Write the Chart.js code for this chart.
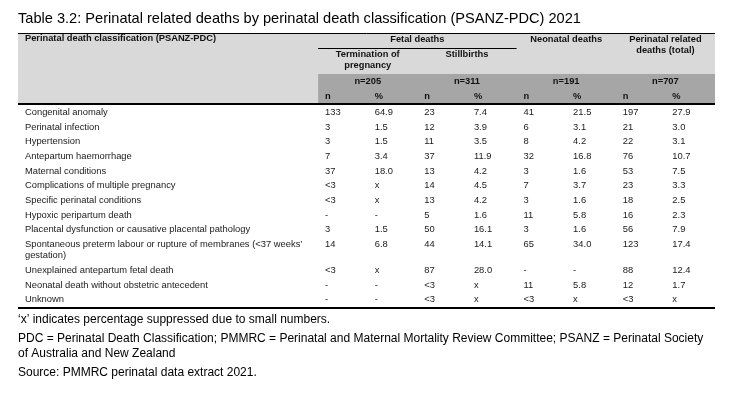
<!DOCTYPE html>
<html>
<head>
<meta charset="utf-8">
<script src="https://cdn.jsdelivr.net/npm/chart.js@4.4.1/dist/chart.umd.min.js"></script>
<style>
html, body { margin: 0; padding: 0; background: #fff; }
#wrap { width: 736px; height: 409px; position: relative; }
</style>
</head>
<body>
<div id="wrap"><canvas id="myChart"></canvas></div>
<script>
// table text
const title = 'Table 3.2: Perinatal related deaths by perinatal death classification (PSANZ-PDC) 2021';
const stubHeader = 'Perinatal death classification (PSANZ-PDC)';
const fetalHeader = 'Fetal deaths';
const groupHeaders = [['Termination of', 'pregnancy'], ['Stillbirths'], ['Neonatal deaths'], ['Perinatal related', 'deaths (total)']];
const groupTotals = ['n=205', 'n=311', 'n=191', 'n=707'];
const subHeaders = ['n', '%'];

const categories = [
    'Congenital anomaly',
    'Perinatal infection',
    'Hypertension',
    'Antepartum haemorrhage',
    'Maternal conditions',
    'Complications of multiple pregnancy',
    'Specific perinatal conditions',
    'Hypoxic peripartum death',
    'Placental dysfunction or causative placental pathology',
    ['Spontaneous preterm labour or rupture of membranes (<37 weeks\u2019', 'gestation)'],
    'Unexplained antepartum fetal death',
    'Neonatal death without obstetric antecedent',
    'Unknown'
];

// series values ('<3', 'x' and '-' kept as printed)
const topN     = ['133', '3', '3', '7', '37', '<3', '<3', '-', '3', '14', '<3', '-', '-'];
const topPct   = ['64.9', '1.5', '1.5', '3.4', '18.0', 'x', 'x', '-', '1.5', '6.8', 'x', '-', '-'];
const stillN   = ['23', '12', '11', '37', '13', '14', '13', '5', '50', '44', '87', '<3', '<3'];
const stillPct = ['7.4', '3.9', '3.5', '11.9', '4.2', '4.5', '4.2', '1.6', '16.1', '14.1', '28.0', 'x', 'x'];
const neoN     = ['41', '6', '8', '32', '3', '7', '3', '11', '3', '65', '-', '11', '<3'];
const neoPct   = ['21.5', '3.1', '4.2', '16.8', '1.6', '3.7', '1.6', '5.8', '1.6', '34.0', '-', '5.8', 'x'];
const totalN   = ['197', '21', '22', '76', '53', '23', '18', '16', '56', '123', '88', '12', '<3'];
const totalPct = ['27.9', '3.0', '3.1', '10.7', '7.5', '3.3', '2.5', '2.3', '7.9', '17.4', '12.4', '1.7', 'x'];

const footnotes = [
    ['\u2018x\u2019 indicates percentage suppressed due to small numbers.'],
    ['PDC = Perinatal Death Classification; PMMRC = Perinatal and Maternal Mortality Review Committee; PSANZ = Perinatal Society', 'of Australia and New Zealand'],
    ['Source: PMMRC perinatal data extract 2021.']
];

const columns = [topN, topPct, stillN, stillPct, neoN, neoPct, totalN, totalPct];

const FONT = '"Liberation Sans", Arial, sans-serif';
const EDGE = -0.14;       // left edge of the numeric block (x units)
const WRAP = 0.78;        // extra height of a wrapped line (y units)

// row positions in y units, wrapped rows push the rest down
let wrapped = 0;
const rowY = categories.map(c => {
    const v = wrapped * WRAP + 0.5;
    if (Array.isArray(c)) wrapped += c.length - 1;
    return v;
}).map((v, i) => v + i);

const datasets = [{
    label: 'classification',
    data: categories.map((c, i) => ({ x: -6.05, y: rowY[i], text: c })),
    pointRadius: 0
}];
columns.forEach((col, c) => {
    datasets.push({
        label: 'col' + c,
        data: col.map((v, i) => ({ x: c, y: rowY[i], text: v })),
        pointRadius: 0
    });
});

const tablePlugin = {
    id: 'table',
    beforeDatasetsDraw(chart) {
        const { ctx, chartArea, scales: { x, y } } = chart;
        const px = v => x.getPixelForValue(v);
        const py = v => y.getPixelForValue(v);
        const left = chartArea.left, right = chartArea.right;
        const lh = py(WRAP) - py(0);

        ctx.save();
        // title
        ctx.fillStyle = '#000';
        ctx.font = '14.6px ' + FONT;
        ctx.textAlign = 'left';
        ctx.textBaseline = 'middle';
        ctx.fillText(title, left, chartArea.top - 14.5);

        // header shading
        ctx.fillStyle = '#d9d9d9';
        ctx.fillRect(left, chartArea.top, right - left, py(0) - chartArea.top);
        ctx.fillStyle = '#a6a6a6';
        ctx.fillRect(px(EDGE), py(-2.04), right - px(EDGE), py(0) - py(-2.04));

        // rules
        ctx.strokeStyle = '#000';
        ctx.lineWidth = 1;
        ctx.beginPath();
        ctx.moveTo(left, chartArea.top + 0.5); ctx.lineTo(right, chartArea.top + 0.5);
        ctx.moveTo(px(EDGE), Math.round(py(-3.81)) + 0.5); ctx.lineTo(px(EDGE + 4), Math.round(py(-3.81)) + 0.5);
        ctx.stroke();
        ctx.lineWidth = 2;
        ctx.beginPath();
        ctx.moveTo(left, Math.round(py(0))); ctx.lineTo(right, Math.round(py(0)));
        ctx.moveTo(left, chartArea.bottom); ctx.lineTo(right, chartArea.bottom);
        ctx.stroke();

        // header text
        ctx.fillStyle = '#111';
        ctx.font = 'bold 9.3px ' + FONT;
        ctx.textAlign = 'left';
        ctx.fillText(stubHeader, px(-6.05), py(-4.49));
        ctx.textAlign = 'center';
        ctx.fillText(fetalHeader, px(EDGE + 2), py(-4.42));
        groupHeaders.forEach((lines, g) => {
            const cx = px(EDGE + g * 2 + 1);
            const top = g < 2 ? -3.40 : -4.42;
            lines.forEach((t, k) => ctx.fillText(t, cx, py(top) + k * lh));
        });
        groupTotals.forEach((t, g) => ctx.fillText(t, px(EDGE + g * 2 + 1), py(-1.56)));
        ctx.textAlign = 'left';
        columns.forEach((col, c) => ctx.fillText(subHeaders[c % 2], px(c), py(-0.51)));

        // footnotes
        ctx.fillStyle = '#000';
        ctx.font = '12px ' + FONT;
        let fy = chartArea.bottom + 12;
        footnotes.forEach(par => {
            par.forEach(t => { ctx.fillText(t, left, fy); fy += 15; });
            fy += 4;
        });
        ctx.restore();
    },
    afterDatasetsDraw(chart) {
        const { ctx, scales: { y } } = chart;
        const lh = y.getPixelForValue(WRAP) - y.getPixelForValue(0);
        ctx.save();
        ctx.fillStyle = '#1a1a1a';
        ctx.font = '9.4px ' + FONT;
        ctx.textAlign = 'left';
        ctx.textBaseline = 'middle';
        chart.data.datasets.forEach((ds, d) => {
            const meta = chart.getDatasetMeta(d);
            meta.data.forEach((pt, i) => {
                const text = ds.data[i].text;
                const lines = Array.isArray(text) ? text : [text];
                lines.forEach((t, k) => ctx.fillText(t, pt.x, pt.y + 1 + k * lh));
            });
        });
        ctx.restore();
    }
};

new Chart(document.getElementById('myChart'), {
    type: 'scatter',
    data: { datasets },
    options: {
        responsive: true,
        maintainAspectRatio: false,
        animation: false,
        events: [],
        layout: { padding: { left: 18, right: 21, top: 33, bottom: 101 } },
        plugins: {
            legend: { display: false },
            tooltip: { enabled: false }
        },
        scales: {
            x: { type: 'linear', display: false, min: -6.19, max: 7.86 },
            y: { type: 'linear', display: false, reverse: true, min: -4.83, max: 13.9 }
        }
    },
    plugins: [tablePlugin]
});
</script>
</body>
</html>
